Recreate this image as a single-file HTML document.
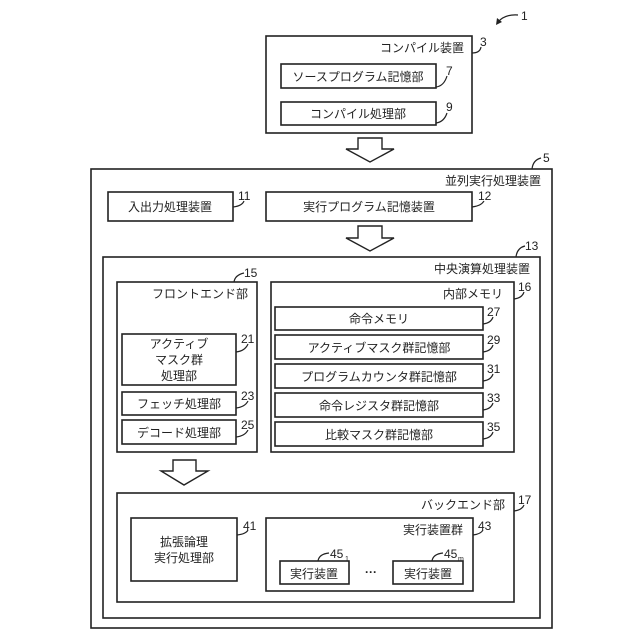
<!DOCTYPE html>
<html><head><meta charset="utf-8"><style>
html,body{margin:0;padding:0;background:#fff;}
svg{display:block}
text{font-family:"Liberation Sans","Noto Sans CJK JP",sans-serif;font-size:12px;fill:#222}
.n{font-size:12px}
rect{fill:#fff;stroke:#222;stroke-width:1.6}
path.l{fill:none;stroke:#222;stroke-width:1.2}
</style></head><body>
<svg width="640" height="640" viewBox="0 0 640 640">
<!-- 1 -->
<text x="521" y="20" class="n">1</text>
<path class="l" d="M518,15 Q505,14 498,22"/><path d="M496,25 L497,18 L502,22 Z" fill="#222"/>
<!-- compiler -->
<rect x="266" y="36" width="206" height="97"/>
<text x="464" y="52" text-anchor="end">コンパイル装置</text>
<text x="480" y="46" class="n">3</text><path class="l" d="M472,53 Q480,53 481,47"/>
<rect x="281" y="64" width="155" height="24"/>
<text x="358" y="81" text-anchor="middle">ソースプログラム記憶部</text>
<text x="446" y="75" class="n">7</text><path class="l" d="M436,87 Q444,86 447,76"/>
<rect x="281" y="102" width="155" height="23"/>
<text x="358" y="118" text-anchor="middle">コンパイル処理部</text>
<text x="446" y="111" class="n">9</text><path class="l" d="M436,123 Q444,122 447,113"/>
<!-- arrow1 -->
<path d="M358,138 L382,138 L382,149 L394,149 L370,162 L346,149 L358,149 Z" fill="#fff" stroke="#222" stroke-width="1.4"/>
<!-- parallel -->
<rect x="91" y="169" width="461" height="459"/>
<text x="541" y="185" text-anchor="end">並列実行処理装置</text>
<text x="543" y="162" class="n">5</text><path class="l" d="M532,169 Q533,160 541,158"/>
<rect x="108" y="192" width="125" height="29"/>
<text x="170" y="211" text-anchor="middle">入出力処理装置</text>
<text x="238" y="200" class="n">11</text><path class="l" d="M233,207 Q242,206 244,201"/>
<rect x="266" y="192" width="206" height="29"/>
<text x="369" y="211" text-anchor="middle">実行プログラム記憶装置</text>
<text x="478" y="200" class="n">12</text><path class="l" d="M472,207 Q481,206 484,201"/>
<!-- arrow2 -->
<path d="M358,226 L382,226 L382,238 L394,238 L370,251 L346,238 L358,238 Z" fill="#fff" stroke="#222" stroke-width="1.4"/>
<!-- CPU -->
<rect x="103" y="257" width="437" height="361"/>
<text x="530" y="273" text-anchor="end">中央演算処理装置</text>
<text x="525" y="250" class="n">13</text><path class="l" d="M516,257 Q517,248 525,246"/>
<!-- front -->
<rect x="117" y="282" width="140" height="170"/>
<text x="248" y="298" text-anchor="end">フロントエンド部</text>
<text x="244" y="277" class="n">15</text><path class="l" d="M234,282 Q235,275 244,273"/>
<rect x="122" y="334" width="114" height="51"/>
<text x="179" y="348" text-anchor="middle">アクティブ</text>
<text x="179" y="364" text-anchor="middle">マスク群</text>
<text x="179" y="380" text-anchor="middle">処理部</text>
<text x="241" y="343" class="n">21</text><path class="l" d="M236,352 Q245,351 248,344"/>
<rect x="122" y="392" width="114" height="23"/>
<text x="179" y="408" text-anchor="middle">フェッチ処理部</text>
<text x="241" y="400" class="n">23</text><path class="l" d="M236,408 Q245,407 248,401"/>
<rect x="122" y="420" width="114" height="24"/>
<text x="179" y="437" text-anchor="middle">デコード処理部</text>
<text x="241" y="429" class="n">25</text><path class="l" d="M236,437 Q245,436 248,430"/>
<!-- internal memory -->
<rect x="271" y="282" width="243" height="170"/>
<text x="503" y="298" text-anchor="end">内部メモリ</text>
<text x="518" y="291" class="n">16</text><path class="l" d="M514,299 Q522,298 524,292"/>
<rect x="275" y="307" width="208" height="23"/>
<text x="379" y="323" text-anchor="middle">命令メモリ</text>
<text x="487" y="316" class="n">27</text><path class="l" d="M483,324 Q491,323 493,317"/>
<rect x="275" y="335" width="208" height="24"/>
<text x="379" y="352" text-anchor="middle">アクティブマスク群記憶部</text>
<text x="487" y="344" class="n">29</text><path class="l" d="M483,352 Q491,351 493,345"/>
<rect x="275" y="364" width="208" height="24"/>
<text x="379" y="381" text-anchor="middle">プログラムカウンタ群記憶部</text>
<text x="487" y="373" class="n">31</text><path class="l" d="M483,381 Q491,380 493,374"/>
<rect x="275" y="393" width="208" height="24"/>
<text x="379" y="410" text-anchor="middle">命令レジスタ群記憶部</text>
<text x="487" y="402" class="n">33</text><path class="l" d="M483,410 Q491,409 493,403"/>
<rect x="275" y="422" width="208" height="24"/>
<text x="379" y="439" text-anchor="middle">比較マスク群記憶部</text>
<text x="487" y="431" class="n">35</text><path class="l" d="M483,439 Q491,438 493,432"/>
<!-- arrow3 -->
<path d="M173,460 L196,460 L196,471 L208,471 L184,485 L161,471 L173,471 Z" fill="#fff" stroke="#222" stroke-width="1.4"/>
<!-- back end -->
<rect x="117" y="493" width="397" height="109"/>
<text x="505" y="509" text-anchor="end">バックエンド部</text>
<text x="518" y="504" class="n">17</text><path class="l" d="M514,511 Q522,510 524,505"/>
<rect x="131" y="518" width="106" height="63"/>
<text x="184" y="546" text-anchor="middle">拡張論理</text>
<text x="184" y="562" text-anchor="middle">実行処理部</text>
<text x="243" y="530" class="n">41</text><path class="l" d="M237,535 Q246,534 248,530"/>
<rect x="266" y="518" width="207" height="73"/>
<text x="463" y="534" text-anchor="end">実行装置群</text>
<text x="478" y="530" class="n">43</text><path class="l" d="M473,535 Q481,534 483,530"/>
<rect x="280" y="561" width="69" height="23"/>
<text x="314" y="578" text-anchor="middle">実行装置</text>
<text x="330" y="558" class="n">45</text><text x="345" y="561" style="font-size:7px">1</text>
<path class="l" d="M318,561 Q319,554 329,553"/>
<rect x="393" y="561" width="70" height="23"/>
<text x="428" y="578" text-anchor="middle">実行装置</text>
<text x="444" y="558" class="n">45</text><text x="458" y="561" style="font-size:7px">m</text>
<path class="l" d="M432,561 Q433,554 443,553"/>
<text x="371" y="576" text-anchor="middle" style="font-size:12px;font-weight:bold">···</text>
</svg>
</body></html>
